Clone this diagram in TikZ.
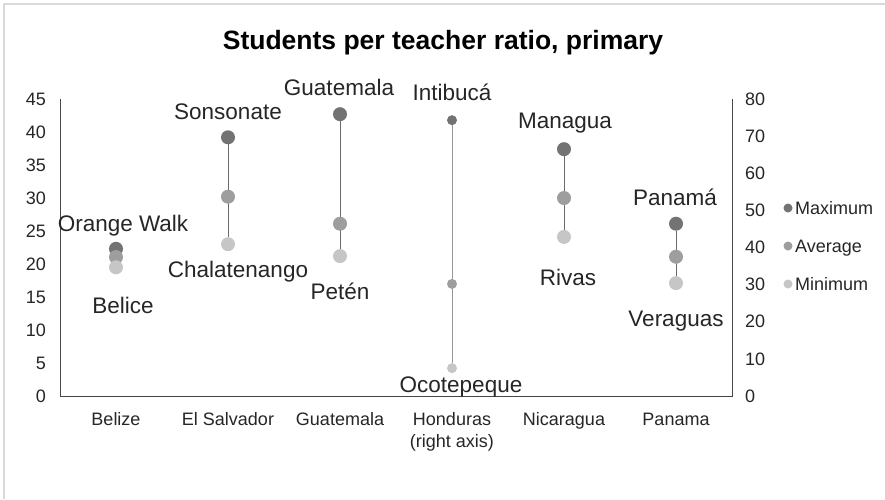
\documentclass[tikz,border=0pt]{standalone}
\usepackage{fontspec}
\setmainfont{Liberation Sans}
\usetikzlibrary{backgrounds}
\definecolor{maxgray}{RGB}{115,115,115}
\definecolor{avggray}{RGB}{158,158,158}
\definecolor{mingray}{RGB}{198,198,198}
\definecolor{stemgray}{RGB}{105,105,105}
\definecolor{stemlight}{RGB}{150,150,150}
\definecolor{framegray}{RGB}{217,217,217}
\definecolor{axisgray}{RGB}{70,70,70}
\definecolor{textgray}{RGB}{38,38,38}
\tikzset{
  % dots of the three series
  dot/.style={circle, inner sep=0pt, minimum size=14pt},
  maxdot/.style={dot, fill=maxgray},
  avgdot/.style={dot, fill=avggray},
  mindot/.style={dot, fill=mingray},
  smalldot/.style={minimum size=10pt},
  legdot/.style={minimum size=9pt},
  % max-min connectors
  stem/.style={stemgray, line width=1pt},
  % axes
  axisline/.style={axisgray, line width=1pt},
  % texts
  lbl/.style={anchor=base, inner sep=0pt, text=textgray,
    font=\fontsize{22.5}{26}\selectfont},
  ticklbl/.style={inner sep=0pt, text=textgray,
    font=\fontsize{18}{21.5}\selectfont},
  catlbl/.style={ticklbl, anchor=north, align=center},
  leglbl/.style={ticklbl, anchor=base west},
  titlelbl/.style={inner sep=0pt, text=black,
    font=\fontsize{26.5}{30}\selectfont\bfseries},
}

\begin{document}
\begin{tikzpicture}[x=1pt, y=-1pt]
  \useasboundingbox (0,0) rectangle (885,499);
  % frame
  \draw[framegray, line width=2pt] (4,499) -- (4,4) -- (885,4);

  % title
  \node[titlelbl] (title) at (443,43) {Students per teacher ratio, primary};

  % axes
  \draw[axisline] (60,99) -- (60,396) -- (732,396) -- (732,99);
  \foreach \v [count=\i from 0] in {0,5,...,45}
    \node[ticklbl, anchor=east] (lt\i) at (46,{396-33*\i}) {\v};
  \foreach \v [count=\i from 0] in {0,10,...,80}
    \node[ticklbl, anchor=west] (rt\i) at (745,{396-37.125*\i}) {\v};

  % categories
  \node[catlbl] (cbel) at (116,412.5) {Belize};
  \node[catlbl] (csal) at (228,412.5) {El Salvador};
  \node[catlbl] (cgua) at (340,412.5) {Guatemala};
  \node[catlbl] (chon) at (452,412.5) {Honduras\\(right axis)};
  \node[catlbl] (cnic) at (564,412.5) {Nicaragua};
  \node[catlbl] (cpan) at (676,412.5) {Panama};

  % left axis data
  \begin{scope}[shift={(0,396)}, y=6.6pt]
    \node[maxdot] (belmax) at (116,22.3) {};
    \node[avgdot] (belavg) at (116,21.05) {};
    \node[mindot] (belmin) at (116,19.5) {};

    \node[maxdot] (salmax) at (228,39.2) {};
    \node[avgdot] (salavg) at (228,30.2) {};
    \node[mindot] (salmin) at (228,23.0) {};

    \node[maxdot] (guamax) at (340,42.7) {};
    \node[avgdot] (guaavg) at (340,26.1) {};
    \node[mindot] (guamin) at (340,21.2) {};

    \node[maxdot] (nicmax) at (564,37.4) {};
    \node[avgdot] (nicavg) at (564,30.0) {};
    \node[mindot] (nicmin) at (564,24.1) {};

    \node[maxdot] (panmax) at (676,26.1) {};
    \node[avgdot] (panavg) at (676,21.1) {};
    \node[mindot] (panmin) at (676,17.1) {};
  \end{scope}

  % Honduras on the right axis
  \begin{scope}[shift={(0,396)}, y=3.7125pt]
    \node[maxdot, smalldot] (honmax) at (452,74.3) {};
    \node[avgdot, smalldot] (honavg) at (452,30.2) {};
    \node[mindot, smalldot] (honmin) at (452,7.5) {};
  \end{scope}

  \begin{pgfonlayer}{background}
    \fill[white] (0,0) rectangle (885,499);
    \draw[stem] (salmax) -- (salmin);
    \draw[stem] (guamax) -- (guamin);
    \draw[stem, stemlight] (honmax) -- (honmin);
    \draw[stem] (nicmax) -- (nicmin);
    \draw[stem] (panmax) -- (panmin);
  \end{pgfonlayer}

  % point labels
  \node[lbl] (orange) at (123,231) {Orange Walk};
  \node[lbl] (belice) at (123,313) {Belice};
  \node[lbl] (sonso) at (228,119) {Sonsonate};
  \node[lbl] (chala) at (238,277) {Chalatenango};
  \node[lbl] (guate) at (339,95) {Guatemala};
  \node[lbl] (peten) at (340,299) {Petén};
  \node[lbl] (intib) at (452,100) {Intibucá};
  \node[lbl] (ocote) at (461,392) {Ocotepeque};
  \node[lbl] (manag) at (565,128) {Managua};
  \node[lbl] (rivas) at (568,285) {Rivas};
  \node[lbl] (panam) at (675,205) {Panamá};
  \node[lbl] (verag) at (676,326) {Veraguas};

  % legend
  \node[maxdot, legdot] (legmax) at (788,208) {};
  \node[avgdot, legdot] (legavg) at (788,246) {};
  \node[mindot, legdot] (legmin) at (788,284) {};
  \node[leglbl] (tmax) at (795,214.5) {Maximum};
  \node[leglbl] (tavg) at (795,252.5) {Average};
  \node[leglbl] (tmin) at (795,290.5) {Minimum};
\end{tikzpicture}
\end{document}
